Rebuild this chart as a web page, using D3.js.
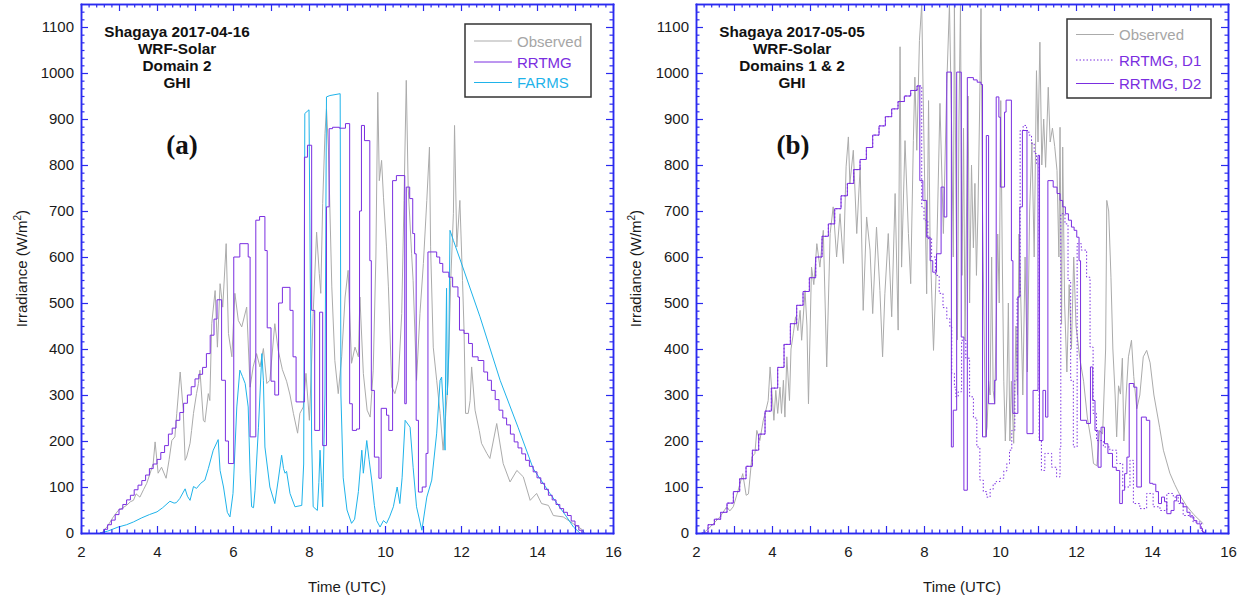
<!DOCTYPE html>
<html>
<head>
<meta charset="utf-8">
<script src="https://cdn.jsdelivr.net/npm/d3@7"></script>
<style>
body { margin: 0; background: #fff; }
svg { font-family: "Liberation Sans", Arial, sans-serif; }
</style>
</head>
<body>
<svg id="chart" width="1242" height="600"></svg>
<script>
// ---- panel (a): Shagaya 2017-04-16 ----
var obsA_t = [2.55,2.7,2.85,2.98,3.1,3.2,3.3,3.38,3.45,3.55,3.65,3.73,3.82,3.9,3.95,4.03,4.12,4.24,4.32,4.39,4.47,4.52,4.61,4.69,4.74,4.78,4.87,4.91,4.96,5.04,5.09,5.13,5.22,5.26,5.35,5.39,5.44,5.53,5.59,5.66,5.73,5.82,5.88,5.97,6.05,6.14,6.23,6.36,6.45,6.53,6.62,6.71,6.8,6.89,6.97,7.1,7.19,7.3,7.41,7.5,7.59,7.7,7.76,7.85,7.92,8.01,8.06,8.11,8.2,8.27,8.31,8.36,8.42,8.46,8.51,8.6,8.68,8.77,8.86,8.95,9.03,9.12,9.21,9.3,9.34,9.43,9.53,9.61,9.69,9.76,9.81,9.85,9.91,9.96,10.04,10.09,10.18,10.26,10.35,10.44,10.5,10.56,10.61,10.7,10.74,10.83,10.92,11.01,11.1,11.17,11.2,11.27,11.36,11.45,11.53,11.6,11.66,11.73,11.8,11.83,11.89,11.97,12.04,12.08,12.12,12.19,12.24,12.28,12.37,12.48,12.54,12.68,12.76,12.85,12.94,13.11,13.29,13.47,13.64,13.82,13.99,14.12,14.3,14.43,14.69,14.96,15.18,15.25]
var obsA_v = [0,15,35,49,55,60,68,71,85,78,95,108,130,151,198,130,143,119,160,201,209,260,350,267,158,165,195,223,260,303,325,354,245,241,303,288,455,527,404,542,491,629,434,383,521,462,448,491,317,361,390,361,401,325,332,455,397,355,330,300,260,217,260,274,347,245,350,477,654,564,521,716,868,922,839,535,375,303,383,513,571,369,404,383,513,347,267,252,354,600,958,766,810,730,622,535,317,303,332,477,723,984,752,607,549,332,477,586,723,839,622,404,332,260,180,260,332,549,694,886,622,723,549,441,260,260,288,361,267,223,195,173,162,200,238,151,111,136,122,71,86,64,60,38,35,20,8,0]

var rrtmgA_t = [2.5,2.6,2.7,2.8,2.9,3.0,3.1,3.2,3.3,3.4,3.5,3.6,3.7,3.8,3.9,4.0,4.1,4.2,4.3,4.4,4.5,4.6,4.7,4.8,4.9,5.0,5.1,5.2,5.3,5.4,5.5,5.58,5.7,5.8,5.88,6.02,6.18,6.4,6.45,6.6,6.7,6.84,6.9,7.0,7.1,7.2,7.3,7.5,7.58,7.66,7.88,7.96,8.07,8.15,8.28,8.36,8.46,8.53,8.62,8.8,8.96,9.07,9.14,9.25,9.33,9.38,9.46,9.6,9.64,9.72,9.84,9.9,10.04,10.1,10.2,10.3,10.52,10.56,10.65,10.73,10.78,10.82,10.88,10.98,11.08,11.13,11.36,11.44,11.52,11.68,11.78,11.92,11.96,12.08,12.2,12.3,12.45,12.6,12.7,12.8,12.9,13.0,13.1,13.2,13.3,13.4,13.5,13.6,13.7,13.8,13.9,14.0,14.1,14.2,14.3,14.4,14.5,14.6,14.7,14.8,14.9,15.0,15.1,15.18]
var rrtmgA_v = [0,8,18,28,40,52,62,72,82,94,104,114,126,140,150,160,175,190,215,228,245,262,282,300,318,335,345,360,390,430,465,507,332,200,151,600,629,600,209,680,688,614,446,330,300,500,534,484,383,285,817,843,484,223,480,190,709,879,882,880,890,281,223,226,700,886,853,592,310,165,119,271,256,223,766,777,281,752,727,651,607,245,89,100,173,611,600,586,567,556,535,513,441,434,412,383,375,350,332,310,290,267,250,235,215,198,185,172,158,145,133,120,108,95,82,72,62,53,45,38,26,16,6,0]

var farmsA_t = [2.5,2.7,2.98,3.2,3.38,3.6,3.8,4.0,4.15,4.34,4.45,4.51,4.6,4.74,4.8,4.87,4.96,5.04,5.15,5.26,5.35,5.48,5.61,5.66,5.75,5.85,5.92,6.0,6.1,6.18,6.25,6.32,6.4,6.45,6.49,6.54,6.58,6.67,6.76,6.8,6.84,6.97,7.1,7.19,7.28,7.33,7.37,7.41,7.5,7.63,7.81,7.86,7.89,8.0,8.03,8.07,8.11,8.22,8.26,8.29,8.33,8.36,8.42,8.46,8.55,8.82,8.84,8.9,9.0,9.12,9.2,9.3,9.39,9.43,9.52,9.58,9.65,9.72,9.78,9.87,9.96,10.04,10.12,10.22,10.32,10.39,10.45,10.53,10.66,10.74,10.83,10.97,11.1,11.23,11.36,11.45,11.49,11.55,11.58,11.6,11.62,11.64,11.68,11.71,11.8,12.0,12.5,13.03,13.5,13.9,14.34,14.78,14.96,15.13]
var farmsA_v = [0,4,13,18,24,33,40,46,55,69,65,66,75,96,80,71,101,97,108,115,140,180,203,136,100,45,35,86,274,354,340,325,274,130,57,55,93,230,390,332,187,100,64,115,169,140,130,134,86,57,60,150,912,920,600,200,57,49,110,180,110,57,300,948,951,955,300,120,50,21,30,90,180,130,201,160,115,60,27,13,27,21,35,57,100,64,120,245,230,143,57,6,78,115,217,332,339,250,180,400,532,300,400,658,636,589,470,332,230,140,86,35,13,0]

// ---- panel (b): Shagaya 2017-05-05 ----
var obsB_t = [2.2,2.4,2.63,2.81,2.89,2.98,3.11,3.23,3.32,3.38,3.47,3.55,3.6,3.68,3.77,3.82,3.9,3.95,4.0,4.05,4.1,4.15,4.21,4.25,4.3,4.34,4.39,4.46,4.5,4.56,4.62,4.68,4.74,4.78,4.87,4.92,4.96,5.04,5.1,5.18,5.26,5.35,5.44,5.53,5.61,5.7,5.79,5.88,5.95,6.01,6.05,6.14,6.23,6.32,6.4,6.49,6.58,6.65,6.75,6.84,6.91,6.97,7.06,7.15,7.24,7.32,7.37,7.41,7.5,7.59,7.65,7.72,7.76,7.81,7.88,7.94,7.98,8.07,8.12,8.16,8.25,8.33,8.42,8.51,8.6,8.67,8.73,8.77,8.8,8.84,8.88,8.92,8.96,9.0,9.04,9.08,9.12,9.16,9.2,9.25,9.3,9.34,9.38,9.42,9.46,9.5,9.54,9.58,9.62,9.66,9.7,9.74,9.78,9.82,9.86,9.9,9.94,9.98,10.02,10.06,10.1,10.14,10.18,10.22,10.26,10.3,10.36,10.42,10.46,10.5,10.55,10.6,10.66,10.72,10.78,10.84,10.9,10.96,11.0,11.05,11.1,11.15,11.2,11.27,11.32,11.38,11.44,11.5,11.55,11.58,11.62,11.65,11.7,11.76,11.82,11.88,11.94,12.0,12.1,12.2,12.3,12.4,12.46,12.55,12.62,12.7,12.78,12.81,12.86,12.92,12.97,13.03,13.07,13.12,13.17,13.22,13.26,13.32,13.38,13.46,13.52,13.6,13.68,13.77,13.86,13.95,14.05,14.2,14.3,14.47,14.6,14.75,14.9,15.1,15.35]
var obsB_v = [0,15,35,57,48,57,93,129,82,85,165,173,223,201,245,260,288,361,303,245,310,260,317,260,332,252,383,288,400,433,470,440,484,419,527,450,281,578,540,629,578,658,361,651,709,600,694,586,796,861,760,832,651,796,484,687,615,477,665,527,383,520,651,470,738,441,1057,578,853,651,542,853,991,832,1071,1150,941,520,940,636,397,592,934,651,977,1150,868,600,1150,750,420,900,1150,560,880,420,700,950,500,800,620,760,560,700,900,1140,700,450,210,230,330,300,600,310,280,450,650,500,940,600,330,200,300,500,200,330,195,450,300,650,500,300,600,350,700,850,600,1005,850,1067,800,900,795,969,850,880,840,788,600,882,454,839,500,350,540,400,600,450,380,330,250,200,151,146,223,215,400,723,700,556,400,300,209,320,302,380,200,300,383,419,340,270,300,383,397,370,300,230,180,130,105,80,60,40,20]

// RRTMG D1 and D2 are identical until about 07:53 UTC
var rrtmgRise_t = [2.15,2.317,2.483,2.65,2.817,2.983,3.15,3.317,3.483,3.65,3.817,3.983,4.15,4.317,4.483,4.65,4.817,4.983,5.15,5.317,5.483,5.65,5.817,5.983,6.15,6.317,6.483,6.65,6.817,6.983,7.15,7.317,7.483,7.65,7.817]
var rrtmgRise_v = [0,18,30,45,65,90,118,145,180,215,265,315,360,410,455,495,525,555,600,645,672,705,733,760,790,812,838,865,885,905,922,938,950,962,972]

var d2Tail_t = [7.89,7.97,8.07,8.16,8.23,8.33,8.45,8.53,8.6,8.72,8.77,8.86,8.98,9.05,9.14,9.3,9.4,9.5,9.54,9.64,9.7,9.86,9.9,9.97,10.01,10.12,10.16,10.3,10.34,10.47,10.52,10.59,10.71,10.87,11.0,11.04,11.13,11.2,11.26,11.4,11.5,11.58,11.65,11.72,11.8,11.88,11.95,12.02,12.08,12.12,12.28,12.38,12.44,12.5,12.58,12.66,12.75,12.84,12.96,13.06,13.15,13.22,13.28,13.34,13.4,13.52,13.6,13.72,13.85,13.94,14.02,14.1,14.17,14.25,14.33,14.39,14.5,14.58,14.65,14.75,14.82,14.92,15.0,15.1,15.18,15.27,15.33,15.38]
var d2Tail_v = [766,723,643,592,567,607,752,687,1002,187,267,1002,426,93,990,985,980,975,209,864,281,332,948,904,752,915,941,592,260,513,709,875,216,310,821,201,310,252,766,752,738,723,709,694,680,665,658,643,592,245,238,361,288,223,143,230,194,173,143,136,64,93,129,165,325,317,100,252,245,108,106,90,64,78,68,42,49,70,82,65,57,45,35,27,20,10,2,0]

var d1Tail_t = [7.89,7.94,8.0,8.1,8.2,8.3,8.4,8.5,8.6,8.68,8.73,8.8,8.84,8.9,8.99,9.1,9.2,9.3,9.39,9.47,9.56,9.65,9.74,9.82,9.9,10.0,10.1,10.18,10.25,10.31,10.39,10.45,10.53,10.61,10.7,10.76,10.83,10.9,10.96,11.03,11.09,11.18,11.27,11.36,11.49,11.58,11.6,11.71,11.79,11.86,11.93,12.03,12.14,12.28,12.37,12.45,12.54,12.72,12.89,13.07,13.23,13.42,13.51,13.68,13.86,14.03,14.21,14.39,14.56,14.69,14.82,15.08,15.3,15.35]
var d1Tail_v = [972,709,680,640,600,560,521,490,466,448,347,317,296,307,419,380,296,250,187,115,90,78,95,107,112,119,135,151,180,223,332,513,875,886,875,865,847,825,803,201,136,173,173,143,122,187,694,672,549,332,187,629,615,556,404,260,201,187,180,151,100,158,64,53,86,57,49,86,78,64,38,24,6,0]

// tick labels
var xTickLabels = [2, 4, 6, 8, 10, 12, 14, 16]
var yTickLabels = [0, 100, 200, 300, 400, 500, 600, 700, 800, 900, 1000, 1100]

var cGray = "#ababab", cPurple = "#7a2ee0", cCyan = "#1fb3ea", cAxis = "#2a2af0"

var plotTop = 4, plotBottom = 533, plotW = 532

var svg = d3.select("#chart")

function drawPanel(p) {
  var g = svg.append("g").attr("transform", "translate(" + p.left + ",0)")

  var x = d3.scaleLinear().domain([2, 16]).range([0, plotW])
  var y = d3.scaleLinear().domain([0, 1150]).range([plotBottom, plotTop])

  g.append("clipPath").attr("id", "clip" + p.id)
    .append("rect").attr("x", 0).attr("y", plotTop).attr("width", plotW).attr("height", plotBottom - plotTop)

  var lines = g.append("g").attr("clip-path", "url(#clip" + p.id + ")")

  p.series.forEach(function(s) {
    var line = d3.line()
      .x(function(d) { return x(d[0]) })
      .y(function(d) { return y(d[1]) })
      .curve(s.step ? d3.curveStepAfter : d3.curveLinear)
    lines.append("path")
      .datum(d3.zip(s.t, s.v))
      .attr("d", line)
      .attr("fill", "none")
      .attr("stroke", s.color)
      .attr("stroke-width", s.width || 1)
      .attr("stroke-dasharray", s.dash || null)
      .attr("stroke-linejoin", "round")
  })

  var xMajor = d3.range(2, 16.01, 1)
  var xMinor = d3.range(2, 16.01, 0.2).filter(function(d) { return Math.abs(d - Math.round(d)) > 0.01 })
  var yMajor = d3.range(0, 1150, 100)
  var yMinor = d3.range(0, 1150, 100 / 6).filter(function(d) { return Math.abs(d / 100 - Math.round(d / 100)) > 0.01 })

  function style(sel) {
    sel.selectAll("path.domain").attr("stroke", cAxis).attr("stroke-width", 1.5)
    sel.selectAll(".tick line").attr("stroke", cAxis).attr("stroke-width", 1.2)
    sel.selectAll(".tick text").attr("fill", "#1a1a1a").style("font-size", "15px")
      .style("font-family", "'Liberation Sans', Arial, sans-serif")
  }

  // bottom
  g.append("g").attr("transform", "translate(0," + plotBottom + ")")
    .call(d3.axisBottom(x).tickValues(xMinor).tickSize(-3.5).tickSizeOuter(0).tickFormat(""))
    .call(style)
  g.append("g").attr("transform", "translate(0," + plotBottom + ")")
    .call(d3.axisBottom(x).tickValues(xMajor).tickSize(-7).tickSizeOuter(0).tickPadding(13)
      .tickFormat(function(d) { return xTickLabels.indexOf(d) >= 0 ? d : "" }))
    .call(style)
  // top
  g.append("g").attr("transform", "translate(0," + plotTop + ")")
    .call(d3.axisTop(x).tickValues(xMinor).tickSize(-3.5).tickSizeOuter(0).tickFormat(""))
    .call(style)
  g.append("g").attr("transform", "translate(0," + plotTop + ")")
    .call(d3.axisTop(x).tickValues(xMajor).tickSize(-7).tickSizeOuter(0).tickFormat(""))
    .call(style)
  // left
  g.append("g")
    .call(d3.axisLeft(y).tickValues(yMinor).tickSize(-3.5).tickSizeOuter(0).tickFormat(""))
    .call(style)
  g.append("g")
    .call(d3.axisLeft(y).tickValues(yMajor).tickSize(-7).tickSizeOuter(0).tickPadding(7)
      .tickFormat(function(d) { return yTickLabels.indexOf(d) >= 0 ? d : "" }))
    .call(style)
  // right
  g.append("g").attr("transform", "translate(" + plotW + ",0)")
    .call(d3.axisRight(y).tickValues(yMinor).tickSize(-3.5).tickSizeOuter(0).tickFormat(""))
    .call(style)
  g.append("g").attr("transform", "translate(" + plotW + ",0)")
    .call(d3.axisRight(y).tickValues(yMajor).tickSize(-7).tickSizeOuter(0).tickFormat(""))
    .call(style)
  g.selectAll("path.domain").attr("stroke-linecap", "square")

  // axis titles
  g.append("text")
    .attr("x", plotW / 2).attr("y", 592)
    .attr("text-anchor", "middle").style("font-size", "15px").attr("fill", "#1a1a1a")
    .text("Time (UTC)")
  var yl = g.append("text")
    .attr("transform", "translate(" + (p.ylabX - p.left) + "," + ((plotTop + plotBottom) / 2) + ") rotate(-90)")
    .attr("text-anchor", "middle").style("font-size", "15px").attr("fill", "#1a1a1a")
  yl.append("tspan").text("Irradiance (W/m")
  yl.append("tspan").attr("dy", -6).style("font-size", "10px").text("2")
  yl.append("tspan").attr("dy", 6).text(")")

  // title block
  var tt = g.append("text").attr("text-anchor", "middle")
    .style("font-size", "15.3px").style("font-weight", "bold").attr("fill", "#111")
  p.title.forEach(function(s, i) {
    tt.append("tspan").attr("x", p.titleX - p.left).attr("y", 37 + i * 17).text(s)
  })
  g.append("text")
    .attr("x", p.tagX - p.left).attr("y", 154)
    .attr("text-anchor", "middle")
    .style("font-family", "'Liberation Serif', 'Times New Roman', serif")
    .style("font-size", "27px").style("font-weight", "bold").attr("fill", "#111")
    .text(p.tag)

  // legend
  var L = p.legend
  g.append("rect")
    .attr("x", L.x - p.left).attr("y", L.y).attr("width", L.w).attr("height", L.h)
    .attr("fill", "#fff").attr("stroke", "#333").attr("stroke-width", 1.5)
  L.items.forEach(function(it, i) {
    var yy = L.rows[i]
    g.append("line")
      .attr("x1", L.x - p.left + 9).attr("x2", L.x - p.left + 47)
      .attr("y1", yy).attr("y2", yy)
      .attr("stroke", it.color).attr("stroke-width", 1)
      .attr("stroke-dasharray", it.dash || null)
    g.append("text")
      .attr("x", L.x - p.left + 52).attr("y", yy + 5.5)
      .style("font-size", "15px").attr("fill", it.text)
      .text(it.name)
  })
}

drawPanel({
  id: "a", left: 81, ylabX: 27, titleX: 177, tagX: 182, tag: "(a)",
  title: ["Shagaya 2017-04-16", "WRF-Solar", "Domain 2", "GHI"],
  series: [
    { t: obsA_t, v: obsA_v, color: cGray },
    { t: farmsA_t, v: farmsA_v, color: cCyan },
    { t: rrtmgA_t, v: rrtmgA_v, color: cPurple, step: true }
  ],
  legend: { x: 465, y: 24, w: 126, h: 73, rows: [41, 62, 82.5],
    items: [
      { name: "Observed", color: cGray, text: "#a6a6a6" },
      { name: "RRTMG", color: cPurple, text: cPurple },
      { name: "FARMS", color: cCyan, text: cCyan }
    ] }
})

drawPanel({
  id: "b", left: 696, ylabX: 641, titleX: 792, tagX: 793, tag: "(b)",
  title: ["Shagaya 2017-05-05", "WRF-Solar", "Domains 1 & 2", "GHI"],
  series: [
    { t: obsB_t, v: obsB_v, color: cGray },
    { t: rrtmgRise_t.concat(d1Tail_t), v: rrtmgRise_v.concat(d1Tail_v), color: cPurple, step: true, dash: "1.5,2" },
    { t: rrtmgRise_t.concat(d2Tail_t), v: rrtmgRise_v.concat(d2Tail_v), color: cPurple, step: true }
  ],
  legend: { x: 1067, y: 19, w: 144, h: 79, rows: [34.5, 60, 83.5],
    items: [
      { name: "Observed", color: cGray, text: "#a6a6a6" },
      { name: "RRTMG, D1", color: cPurple, text: cPurple, dash: "1.5,2" },
      { name: "RRTMG, D2", color: cPurple, text: cPurple }
    ] }
})
</script>
</body>
</html>
